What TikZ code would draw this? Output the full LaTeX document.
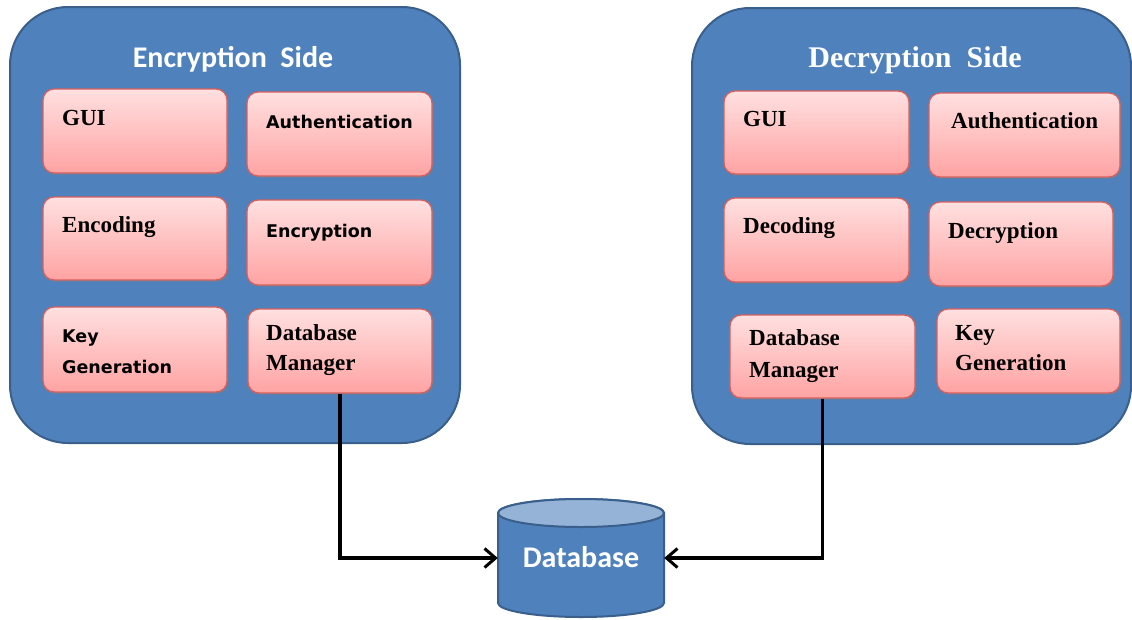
\documentclass[tikz,border=0pt]{standalone}
\usepackage{fontspec}
\usetikzlibrary{arrows.meta,shadows}
\newfontfamily\titlefont{Carlito}
\newfontfamily\serifbox{Liberation Serif}
\newfontfamily\sansbox{DejaVu Sans}
\definecolor{panelblue}{HTML}{4F81BD}
\definecolor{paneledge}{HTML}{3A5F8B}
\definecolor{boxtop}{HTML}{FFE0E0}
\definecolor{boxbot}{HTML}{FFA3A3}
\definecolor{boxedge}{HTML}{D8605C}
\definecolor{dbtop}{HTML}{95B3D7}
\tikzset{
  panel/.style={fill=panelblue, draw=paneledge, line width=2pt, rounded corners=58pt},
  box/.style={rectangle, rounded corners=11pt, draw=boxedge, line width=1.3pt,
    top color=boxtop, bottom color=boxbot, inner sep=0pt,
    drop shadow={shadow xshift=1.5pt, shadow yshift=-2pt, opacity=0.35}},
  sertxt/.style={anchor=base west, inner sep=0pt, font=\serifbox\bfseries\fontsize{23}{25}\selectfont},
  santxt/.style={anchor=base west, inner sep=0pt, font=\sansbox\bfseries\fontsize{17.5}{20}\selectfont},
  conn/.style={draw=black, line width=3.2pt, -{Straight Barb[length=11pt, width=19pt, line width=3pt]}},
}
\begin{document}
\begin{tikzpicture}[x=1pt, y=-1pt]
\useasboundingbox (0,0) rectangle (1132,619);
\clip (0,0) rectangle (1132,619);
% panels
\path[panel] (10,7) rectangle (460,443);
\path[panel] (692,8) rectangle (1131,444);
\node[anchor=base, text=white, font=\titlefont\bfseries\fontsize{30}{32}\selectfont] (ltitle) at (233,67) {Encryption\ \ Side};
\node[anchor=base, text=white, font=\serifbox\bfseries\fontsize{30}{32}\selectfont] (rtitle) at (915,67) {Decryption\ \ Side};
% left boxes
\node[box, minimum width=184pt, minimum height=84pt] (lgui) at (135,131) {};
\node[box, minimum width=185pt, minimum height=84pt] (lauth) at (339.5,134) {};
\node[box, minimum width=184pt, minimum height=83pt] (lenc) at (135,238.5) {};
\node[box, minimum width=185pt, minimum height=85pt] (lcrypt) at (339.5,242.5) {};
\node[box, minimum width=184pt, minimum height=85pt] (lkey) at (135,349.5) {};
\node[box, minimum width=184pt, minimum height=84pt] (ldbm) at (340,351) {};
\node[sertxt] (tlgui) at (62,125) {GUI};
\node[santxt] (tlauth) at (266,128) {Authentication};
\node[sertxt] (tlenc) at (62,232) {Encoding};
\node[santxt] (tlcrypt) at (266,237) {Encryption};
\node[santxt] (tlkey1) at (62,342) {Key};
\node[santxt] (tlkey2) at (62,373) {Generation};
\node[sertxt] (tldbm1) at (266,340) {Database};
\node[sertxt] (tldbm2) at (266,370) {Manager};
% right boxes
\node[box, minimum width=185pt, minimum height=83pt] (rgui) at (816.5,132.5) {};
\node[box, minimum width=191pt, minimum height=84pt] (rauth) at (1024.5,135) {};
\node[box, minimum width=185pt, minimum height=84pt] (rdec) at (816.5,240) {};
\node[box, minimum width=184pt, minimum height=84pt] (rcrypt) at (1021,244) {};
\node[box, minimum width=185pt, minimum height=83pt] (rdbm) at (822.5,356.5) {};
\node[box, minimum width=183pt, minimum height=84pt] (rkey) at (1028.5,351) {};
\node[sertxt] (trgui) at (743,126) {GUI};
\node[sertxt] (trauth) at (951,128) {Authentication};
\node[sertxt] (trdec) at (743,233) {Decoding};
\node[sertxt] (trcrypt) at (948,238) {Decryption};
\node[sertxt] (trdbm1) at (749,345) {Database};
\node[sertxt] (trdbm2) at (749,377) {Manager};
\node[sertxt] (trkey1) at (955,340) {Key};
\node[sertxt] (trkey2) at (955,370) {Generation};
% database cylinder
\path[fill=panelblue, draw=paneledge, line width=2pt]
  (498,513) -- (498,603) arc[start angle=180, end angle=360, x radius=83pt, y radius=14pt]
  -- (664,513) arc[start angle=0, end angle=180, x radius=83pt, y radius=14pt] -- cycle;
\path[fill=dbtop, draw=paneledge, line width=2pt] (581,513) ellipse[x radius=83pt, y radius=14pt];
\node[minimum width=166pt, minimum height=118pt, inner sep=0pt] (db) at (581,558) {};
\node[anchor=base, text=white, font=\titlefont\bfseries\fontsize{30}{32}\selectfont] (dbtxt) at (581,567) {Database};
% connectors
\draw[conn] (ldbm.south) |- (db.west);
\draw[conn] (rdbm.south) |- (db.east);
\end{tikzpicture}
\end{document}
